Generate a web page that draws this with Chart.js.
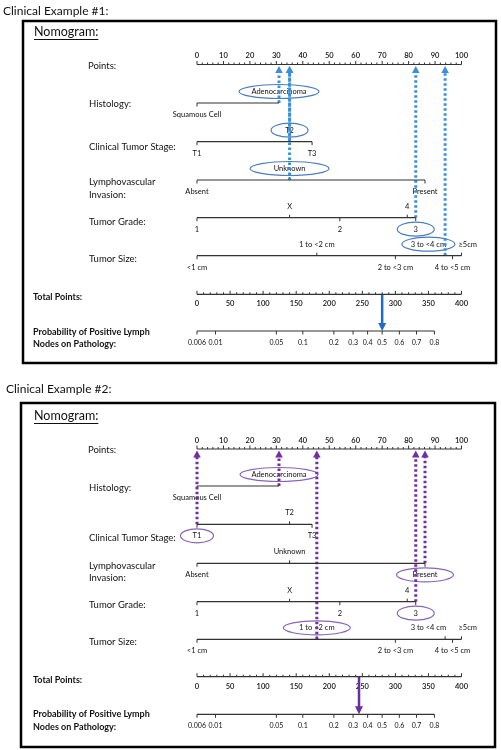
<!DOCTYPE html>
<html>
<head>
<meta charset="utf-8">
<script src="https://cdn.jsdelivr.net/npm/chart.js@4"></script>
<style>
  html, body { margin: 0; padding: 0; background: #fff; }
  #wrap { width: 501px; height: 750px; }
</style>
</head>
<body>
<div id="wrap"><canvas id="nomo" width="501" height="750"></canvas></div>
<script>
// Nomogram data (points scale 0-100, total points 0-400)
const pointTicks = [0, 10, 20, 30, 40, 50, 60, 70, 80, 90, 100];
const totalTicks = [0, 50, 100, 150, 200, 250, 300, 350, 400];
const probLabels = ['0.006', '0.01', '0.05', '0.1', '0.2', '0.3', '0.4', '0.5', '0.6', '0.7', '0.8'];
const probAtTotal = [0, 28, 120, 160, 207, 236, 258, 280, 306, 332, 359];

const histologyLevels = ['Squamous Cell', 'Adenocarcinoma'];
const histologyPoints = [0, 31];
const stageLevels = ['T1', 'T2', 'T3'];
const stagePoints = [0, 35, 43.5];
const lviLevels = ['Absent', 'Unknown', 'Present'];
const lviPoints = [0, 35, 86.2];
const gradeLevels = ['1', 'X', '2', '4', '3'];
const gradePoints = [0, 35, 54, 79.5, 82.7];
const sizeLevels = ['<1 cm', '1 to <2 cm', '2 to <3 cm', '3 to <4 cm', '4 to <5 cm', '≥5cm'];
const sizePoints = [0, 45.3, 75, 93.8, 96.6, 100];

// chosen level for each variable (histology, stage, lvi, grade, size)
const case1Levels = ['Adenocarcinoma', 'T2', 'Unknown', '3', '3 to <4 cm'];
const case1Total = 280;
const case2Levels = ['Adenocarcinoma', 'T1', 'Present', '3', '1 to <2 cm'];
const case2Total = 245;

// label placement (layout only)
const histologySide = ['below', 'above'];
const stageSide = ['below', 'above', 'below'];
const lviSide = ['below', 'above', 'below'];
const gradeSide = ['below', 'above', 'below', 'above', 'below'];
const sizeSide = ['below', 'above', 'below', 'above', 'below', 'above'];
const sizeAlign = ['center', 'center', 'center', 'right', 'center', 'left'];

const variables = [
  { label: ['Histology:'], levels: histologyLevels, pts: histologyPoints, side: histologySide },
  { label: ['Clinical Tumor Stage:'], levels: stageLevels, pts: stagePoints, side: stageSide },
  { label: ['Lymphovascular', 'Invasion:'], levels: lviLevels, pts: lviPoints, side: lviSide },
  { label: ['Tumor Grade:'], levels: gradeLevels, pts: gradePoints, side: gradeSide },
  { label: ['Tumor Size:'], levels: sizeLevels, pts: sizePoints, side: sizeSide, align: sizeAlign }
];

const panels = [
  {
    title: 'Clinical Example #1:', titleX: 3, titleY: 11,
    box: [23, 21, 496, 363], nomY: 32, axisY: 64.5,
    rowY: [103, 141.7, 180, 217.7, 255.7],
    labelY: [[104], [146.7], [182, 194.5], [222], [259]],
    pointsLabelY: 66, totalY: 294.3, probY: 331, totalLabelY: 297, probLabelY: [332, 344.5],
    chosen: case1Levels, total: case1Total, ellipseW: [80, 37, 79, 37, 53],
    dotColor: '#3d8fdc', ellipseColor: '#4a7ebf', arrowColor: '#1f6cc4'
  },
  {
    title: 'Clinical Example #2:', titleX: 6, titleY: 389,
    box: [21, 403, 495, 747], nomY: 416, axisY: 449,
    rowY: [486, 524.3, 563.3, 601.7, 639.3],
    labelY: [[488], [538], [566, 577.5], [605], [642]],
    pointsLabelY: 450, totalY: 676.7, probY: 714.3, totalLabelY: 680, probLabelY: [714.5, 727],
    chosen: case2Levels, total: case2Total, ellipseW: [78, 33, 57, 37, 67],
    dotColor: '#7030a0', ellipseColor: '#8a63b8', arrowColor: '#6a2fa0'
  }
];

const FONT = 'Lato, "Open Sans", sans-serif';
const INK = '#111';
const AXIS = '#333';

function seg(x1, y1, x2, y2, color, width, dash) {
  return {
    data: [{ x: x1, y: y1 }, { x: x2, y: y2 }],
    showLine: true, borderColor: color, borderWidth: width,
    borderDash: dash || [], borderCapStyle: 'butt',
    pointRadius: 0, pointHoverRadius: 0, fill: false
  };
}

const datasets = [];
panels.forEach(p => {
  datasets.push(seg(0, p.axisY, 100, p.axisY, AXIS, 1.2));
  variables.forEach((v, i) => {
    datasets.push(seg(0, p.rowY[i], Math.max(...v.pts), p.rowY[i], AXIS, 1.2));
  });
  datasets.push(seg(0, p.totalY, totalTicks[totalTicks.length - 1] / 4, p.totalY, AXIS, 1.2));
  datasets.push(seg(0, p.probY, probAtTotal[probAtTotal.length - 1] / 4, p.probY, AXIS, 1.2));
  variables.forEach((v, i) => {
    const x = v.pts[v.levels.indexOf(p.chosen[i])];
    datasets.push(seg(x, p.rowY[i], x, p.axisY + 7, p.dotColor, 3, [2.5, 2.5]));
  });
  datasets.push(seg(p.total / 4, p.totalY, p.total / 4, p.probY - 7, p.arrowColor, 2.5));
});

const nomogramPlugin = {
  id: 'nomogram',
  beforeDatasetsDraw(chart) {
    const ctx = chart.ctx;
    const X = v => chart.scales.x.getPixelForValue(v);
    const Y = v => chart.scales.y.getPixelForValue(v);
    ctx.save();
    panels.forEach(p => {
      ctx.fillStyle = INK;
      ctx.textBaseline = 'middle';
      ctx.textAlign = 'left';
      ctx.font = '12px ' + FONT;
      ctx.fillText(p.title, p.titleX, Y(p.titleY));

      ctx.strokeStyle = '#000';
      ctx.lineWidth = 2.5;
      ctx.strokeRect(p.box[0], Y(p.box[1]), p.box[2] - p.box[0], Y(p.box[3]) - Y(p.box[1]));

      ctx.font = '12.5px ' + FONT;
      const nw = ctx.measureText('Nomogram:').width;
      ctx.fillText('Nomogram:', 34, Y(p.nomY));
      ctx.lineWidth = 1;
      ctx.strokeStyle = INK;
      ctx.beginPath();
      ctx.moveTo(34, Y(p.nomY) + 7.5);
      ctx.lineTo(34 + nw, Y(p.nomY) + 7.5);
      ctx.stroke();

      // row labels
      ctx.font = '9.5px ' + FONT;
      ctx.fillText('Points:', 88, Y(p.pointsLabelY));
      variables.forEach((v, i) => {
        v.label.forEach((t, k) => ctx.fillText(t, 89, Y(p.labelY[i][k])));
      });
      ctx.font = 'bold 9px ' + FONT;
      ctx.fillText('Total Points:', 33, Y(p.totalLabelY));
      ctx.fillText('Probability of Positive Lymph', 33, Y(p.probLabelY[0]));
      ctx.fillText('Nodes on Pathology:', 33, Y(p.probLabelY[1]));

      // points axis
      ctx.strokeStyle = AXIS;
      ctx.lineWidth = 1;
      ctx.beginPath();
      for (let t = 0; t <= 100; t += 2) {
        const len = t % 10 === 0 ? 3.5 : 2;
        ctx.moveTo(X(t), Y(p.axisY));
        ctx.lineTo(X(t), Y(p.axisY) - len);
      }
      ctx.stroke();
      ctx.textAlign = 'center';
      ctx.font = '600 7.5px ' + FONT;
      pointTicks.forEach(t => ctx.fillText(String(t), X(t), Y(p.axisY) - 8.5));

      // total points axis
      ctx.beginPath();
      for (let t = 0; t <= 400; t += 10) {
        const len = t % 50 === 0 ? 3.5 : 2;
        ctx.moveTo(X(t / 4), Y(p.totalY));
        ctx.lineTo(X(t / 4), Y(p.totalY) - len);
      }
      ctx.stroke();
      totalTicks.forEach(t => ctx.fillText(String(t), X(t / 4), Y(p.totalY) + 9.5));

      // probability axis
      ctx.beginPath();
      probAtTotal.forEach(t => {
        ctx.moveTo(X(t / 4), Y(p.probY));
        ctx.lineTo(X(t / 4), Y(p.probY) + 3.5);
      });
      ctx.stroke();
      ctx.font = '7px ' + FONT;
      probLabels.forEach((lab, i) => ctx.fillText(lab, X(probAtTotal[i] / 4), Y(p.probY) + 11.5));

      // variable ticks, level labels, ellipses
      variables.forEach((v, i) => {
        const y0 = Y(p.rowY[i]);
        ctx.strokeStyle = AXIS;
        ctx.lineWidth = 1;
        ctx.beginPath();
        v.pts.forEach((pt, k) => {
          const up = v.side[k] === 'above';
          ctx.moveTo(X(pt), y0);
          ctx.lineTo(X(pt), up ? y0 - 3 : y0 + 3.5);
        });
        ctx.stroke();
        ctx.font = '7.5px ' + FONT;
        ctx.fillStyle = INK;
        v.levels.forEach((lab, k) => {
          const up = v.side[k] === 'above';
          const ty = up ? y0 - 11.5 : y0 + 11.5;
          const al = v.align ? v.align[k] : 'center';
          let tx = X(v.pts[k]);
          if (al === 'right') tx += 1;
          if (al === 'left') tx -= 3;
          ctx.textAlign = al;
          ctx.fillText(lab, tx, ty);
          if (lab === p.chosen[i]) {
            const w = ctx.measureText(lab).width;
            let cx = tx;
            if (al === 'right') cx = tx - w / 2;
            if (al === 'left') cx = tx + w / 2;
            ctx.strokeStyle = p.ellipseColor;
            ctx.lineWidth = 1.2;
            ctx.beginPath();
            ctx.ellipse(cx, ty, p.ellipseW[i] / 2, 7, 0, 0, Math.PI * 2);
            ctx.stroke();
          }
        });
      });
    });
    ctx.restore();
  },
  afterDatasetsDraw(chart) {
    const ctx = chart.ctx;
    const X = v => chart.scales.x.getPixelForValue(v);
    const Y = v => chart.scales.y.getPixelForValue(v);
    ctx.save();
    panels.forEach(p => {
      ctx.fillStyle = p.dotColor;
      variables.forEach((v, i) => {
        const x = X(v.pts[v.levels.indexOf(p.chosen[i])]);
        const yt = Y(p.axisY) + 1.5;
        ctx.beginPath();
        ctx.moveTo(x, yt);
        ctx.lineTo(x - 3.8, yt + 7);
        ctx.lineTo(x + 3.8, yt + 7);
        ctx.closePath();
        ctx.fill();
      });
      const ax = X(p.total / 4), ay = Y(p.probY);
      ctx.fillStyle = p.arrowColor;
      ctx.beginPath();
      ctx.moveTo(ax, ay);
      ctx.lineTo(ax - 4, ay - 8);
      ctx.lineTo(ax + 4, ay - 8);
      ctx.closePath();
      ctx.fill();
    });
    ctx.restore();
  }
};

new Chart(document.getElementById('nomo'), {
  type: 'scatter',
  data: { datasets },
  options: {
    responsive: false,
    animation: false,
    events: [],
    layout: { padding: 0 },
    plugins: { legend: { display: false }, tooltip: { enabled: false } },
    scales: {
      // 0..100 points spans pixels 197..461.5
      x: { type: 'linear', display: false, min: -74.48, max: 114.93 },
      y: { type: 'linear', display: false, min: 0, max: 750, reverse: true }
    }
  },
  plugins: [nomogramPlugin]
});
</script>
</body>
</html>
